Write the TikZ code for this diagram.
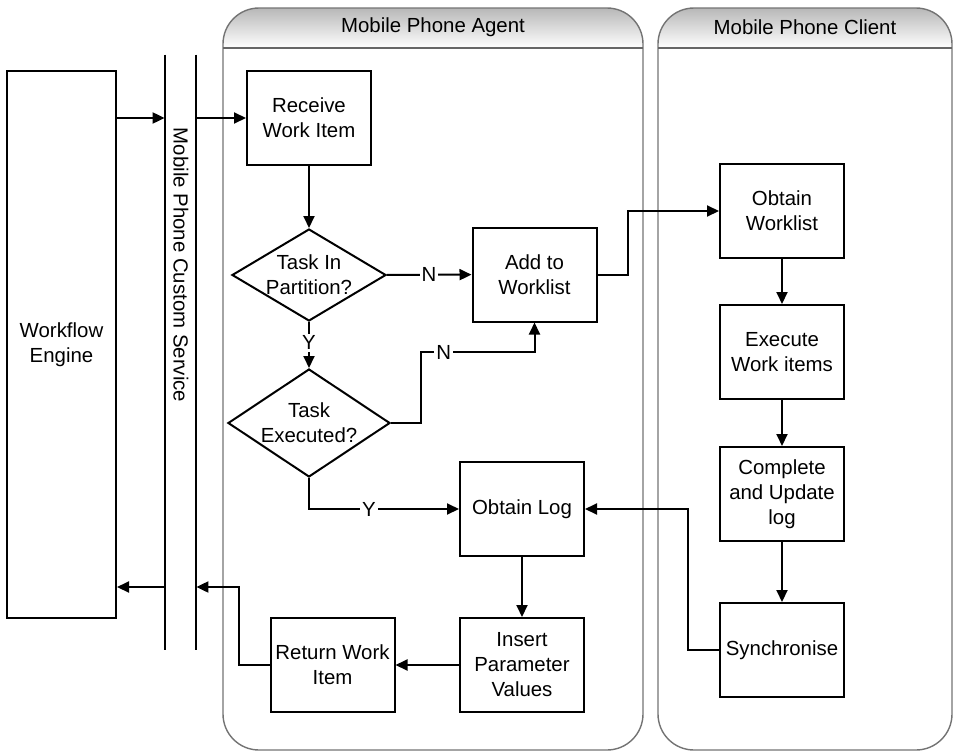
\documentclass[tikz,border=0pt]{standalone}
\usepackage{fontspec}
\setmainfont{Liberation Sans}
\usetikzlibrary{shapes.geometric,arrows.meta}
\tikzset{
  box/.style={rectangle,draw,line width=1pt,minimum width=62pt,minimum height=47pt,align=center,inner sep=2pt},
  decision/.style={diamond,draw,line width=1pt,align=center,inner sep=-12pt},
  lab/.style={fill=white,inner sep=1pt},
  lane/.style={draw=black!55,line width=0.7pt,rounded corners=18pt},
  flow/.style={-{Triangle[length=6pt,width=5.5pt]},line width=1pt}
}

\begin{document}
\begin{tikzpicture}[x=0.5pt,y=-0.5pt,font=\fontsize{10.2}{12.5}\selectfont]
\useasboundingbox (0,0) rectangle (953,755);

% swimlanes
\begin{scope}
  \clip[rounded corners=18pt] (223,8) rectangle (643,750);
  \shade[top color=black!28,bottom color=white] (223,8) rectangle (643,48);
\end{scope}
\draw[lane] (223,8) rectangle (643,750);
\draw[draw=black!60,line width=0.9pt] (223,48) -- (643,48);
\node (agent) at (433,27) {Mobile Phone Agent};

\begin{scope}
  \clip[rounded corners=18pt] (658,8) rectangle (952,750);
  \shade[top color=black!28,bottom color=white] (658,8) rectangle (952,48);
\end{scope}
\draw[lane] (658,8) rectangle (952,750);
\draw[draw=black!60,line width=0.9pt] (658,48) -- (952,48);
\node (client) at (805,27) {Mobile Phone Client};

% engine and service
\node[box,minimum width=54.5pt,minimum height=273.5pt] (we) at (61.5,344.5) {Workflow\\Engine};
\node[minimum width=15.5pt,minimum height=297.5pt,inner sep=0pt] (svc) at (180.5,352.5) {};
\draw[line width=1pt] (svc.north west) -- (svc.south west) (svc.north east) -- (svc.south east);
\node[rotate=-90] (svctext) at (181,265) {Mobile Phone Custom Service};

% agent
\node[box] (recv) at (309,118) {Receive\\Work Item};
\node[decision,minimum width=77pt,minimum height=46pt] (part) at (309,275) {Task In\\Partition?};
\node[decision,minimum width=81pt,minimum height=54pt] (exec) at (309,423) {Task\\Executed?};
\node[box] (add) at (534.5,274.5) {Add to\\Worklist};
\node[box] (log) at (522,509) {Obtain Log};
\node[box] (ins) at (522,665) {Insert\\Parameter\\Values};
\node[box] (ret) at (332.5,665) {Return Work\\Item};

% client
\node[box] (owl) at (782,211) {Obtain\\Worklist};
\node[box] (exe) at (782,352) {Execute\\Work items};
\node[box] (cmp) at (782,494) {Complete\\and Update\\log};
\node[box] (sync) at (782,650) {Synchronise};

\coordinate (nbend) at (421,352);
\coordinate (back) at (239,587);

\draw[flow] (we.east |- recv.west) -- (svc.west |- recv.west);
\draw[flow] (svc.east |- recv.west) -- (recv.west);
\draw[flow] (recv) -- (part);
\draw[flow] (part) -- node[lab] {N} (add);
\draw[flow] (part) -- node[lab,pos=0.45] {Y} (exec);
\draw[flow] (exec.east) -| (nbend) -- node[lab,pos=0.2] {N} (add.south |- nbend) -- (add.south);
\draw[flow] (exec.south) |- node[lab,pos=0.7] {Y} (log.west);
\draw[flow] (add.east) -- ++(15pt,0) |- (owl.west);
\draw[flow] (owl) -- (exe);
\draw[flow] (exe) -- (cmp);
\draw[flow] (cmp) -- (sync);
\draw[flow] (sync.west) -- ++(-15.5pt,0) |- (log.east);
\draw[flow] (log) -- (ins);
\draw[flow] (ins) -- (ret);
\draw[flow] (ret.west) -| (back) -- (svc.east |- back);
\draw[flow] (svc.west |- back) -- (we.east |- back);

\end{tikzpicture}
\end{document}
